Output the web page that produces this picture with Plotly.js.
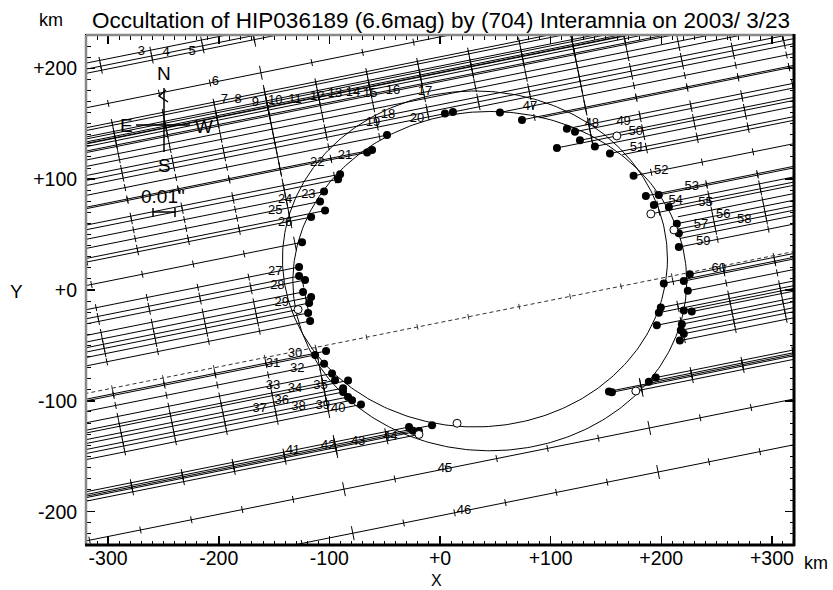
<!DOCTYPE html>
<html><head><meta charset="utf-8">
<script src="https://cdn.plot.ly/plotly-3.0.1.min.js"></script>
<style>html,body{margin:0;padding:0;background:#fff}</style>
</head><body><div id="chart" style="width:833px;height:590px"></div>
<script>
// ---------- data (km in the fundamental plane) ----------
const chordSlope = 0.2;
const chordB  = [268.6,263.2,259.4,228.3,210.3,207.8,202.0,200.2,197.5,196.2,195.7,193.3,189.3,187.9,181.2,175.4,167.2,162.8,
  158.2,149.3,138.6,137.3,122.5,118.3,109.7,107.0,101.5,92.4,89.1,68.0,46.2,47.6,38.0,33.4,30.5,23.0,17.0,11.9,8.0,3.1,-4.5,
  -31.0,-34.5,-36.0,-45.5,-55.8,-62.5,-65.0,-60.0,-71.0,-74.5,-79.9,-83.5,-89.0,-118.0,-120.5,-122.0,-123.3,-126.5,-162.3,-203.6];
const chordD  = [null,null,null,null,null,null,null,null,null,null,null,null,null,null,null,null,null,null,
  4.5,-47.9,-61.4,-65.9,-90.3,-92.1,-104.8,null,-108.4,-103.9,-116.5,-124.7,-127.4,null,-127.4,-122,null,-123.8,-116.5,-118.3,-128.3,-119.2,-117.4,
  null,-103,-112.9,-104.8,-97.6,-94.9,-83.1,null,-87.6,-87.6,-83.1,-79.5,-71.4,-28,-7.2,-24.4,-19,-19,null,null];
const chordDType = ['','','','','','','','','','','','','','','','','','',
  'f','f','f','f','f','f','f','','f','f','f','f','f','','f','f','','f','f','f','o','f','f',
  '','f','f','f','f','f','f','','f','f','f','f','f','f','f','f','f','o','',''];
const chordR  = [null,null,null,null,null,null,null,null,null,null,null,null,null,null,null,null,null,null,
  11.7,54.2,74.1,90,114.7,122,126.5,105.7,140,153.6,165,175,197.8,186.1,193.3,206.9,190.6,215,214.1,211.4,215.9,217,215.9,
  225.8,202.3,220.4,224,199.6,220.4,227.6,197.8,196,218.6,217.7,220.4,216.8,195,188.8,152.7,155.4,177,null,null];
const chordRType = ['','','','','','','','','','','','','','','','','','',
  'f','f','f','','f','f','f','f','f','f','','f','f','f','f','f','o','','f','o','f','','f',
  'f','f','f','f','f','f','f','f','f','f','f','f','f','f','f','f','f','o','',''];
const extraChord = [25, 57];
const extraX     = [159.9, 15.4];
const extraType  = ['o','o'];

const centerLineB = -29.3;

const labelText  = ['3','4','5','6','7','8','9','10','11','12','13','14','15','16','17','18','19','20','47','21','22','48','49',
  '23','24','50','25','51','26','52','27','53','54','28','55','29','56','57','58','59','60','30','31','32','33','34','35','36',
  '37','38','39','40','41','42','43','44','45','46'];
const labelChord = [0,1,2,3,4,5,6,7,8,9,10,11,12,13,14,16,17,18,19,20,21,22,23,
  24,24,25,26,27,28,29,30,31,32,33,34,36,36,37,38,40,41,41,43,44,45,46,47,49,
  50,51,52,53,54,55,56,57,59,60];
const labelX     = [-270,-247.5,-224,-203,-195,-182.5,-167,-149,-131,-111,-95,-78.6,-63,-42.5,-13.6,-47,-60.5,-20.8,81.3,-85.8,-111,137.3,166,
  -119,-140,177,-149,178,-140,200,-149,227.6,213,-147,240,-143,256,236,275,238,252,-131,-151,-129,-151,-131,-108,-143,
  -163,-128,-106,-92,-133,-101,-74,-45,4.5,21.7];

const ellipseCx = [31.6, 45.0];
const ellipseCy = [28.0, 8.0];
const ellipseA  = [174, 178];
const ellipseB  = [151.5, 153];

const xTickVals = [-300,-200,-100,0,100,200,300];
const xTickText = ['-300','-200','-100','+0','+100','+200','+300'];
const yTickVals = [-200,-100,0,100,200];
const yTickText = ['-200','-100','+0','+100','+200'];

// ---------- geometry helpers ----------
const cosT = 1/Math.sqrt(1+chordSlope*chordSlope), sinT = chordSlope*cosT;
const tickStep = 46, tickPhase = 20, XMIN=-340, XMAX=340;
const lineX=[], lineY=[], tickX=[], tickY=[], bigX=[], bigY=[];
function yOn(b,x){return chordSlope*x+b;}
function addSeg(b,x0,x1,ax,ay){ax.push(x0,x1,null); ay.push(yOn(b,x0),yOn(b,x1),null);}
function addTicks(b,x0,x1,h){
  const off = sinT*cosT*b;
  const kmin = Math.ceil((x0+off-tickPhase)/tickStep), kmax = Math.floor((x1+off-tickPhase)/tickStep);
  for(let k=kmin;k<=kmax;k++){
    const x = tickPhase + k*tickStep - off, y = yOn(b,x);
    const big = (((k%6)+6)%6)===3;
    const hh = big ? h*2 : h;
    const tx = big?bigX:tickX, ty = big?bigY:tickY;
    tx.push(x - hh*(-sinT), x + hh*(-sinT), null);
    ty.push(y - hh*cosT, y + hh*cosT, null);
  }
}
const fX=[],fY=[],oX=[],oY=[];
function addEvt(t,b,x){ if(t==='f'){fX.push(x);fY.push(yOn(b,x));} else if(t==='o'){oX.push(x);oY.push(yOn(b,x));} }
for(let i=0;i<chordB.length;i++){
  const b=chordB[i], D=chordD[i], R=chordR[i];
  const segs=[];
  if(D===null && R===null) segs.push([XMIN,XMAX]);
  else { if(D!==null) segs.push([XMIN,D]); if(R!==null) segs.push([R,XMAX]); }
  segs.forEach(s=>{addSeg(b,s[0],s[1],lineX,lineY); addTicks(b,s[0],s[1],3.2);});
  if(D!==null) addEvt(chordDType[i],b,D);
  if(R!==null) addEvt(chordRType[i],b,R);
}
extraChord.forEach((c,j)=>addEvt(extraType[j],chordB[c],extraX[j]));
const cX=[],cY=[]; addSeg(centerLineB,XMIN,XMAX,cX,cY);
const ctX=[],ctY=[];
(function(){const off=sinT*cosT*centerLineB;
  for(let k=-10;k<=10;k++){const x=tickPhase+k*tickStep-off,y=yOn(centerLineB,x);
    ctX.push(x+2.5*sinT,x-2.5*sinT,null); ctY.push(y-2.5*cosT,y+2.5*cosT,null);}})();

const traces=[];
for(let e=0;e<ellipseCx.length;e++){
  const ex=[],ey=[];
  for(let t=0;t<=360;t++){const a=t*Math.PI/180; ex.push(ellipseCx[e]+ellipseA[e]*Math.cos(a)); ey.push(ellipseCy[e]+ellipseB[e]*Math.sin(a));}
  traces.push({x:ex,y:ey,mode:'lines',line:{color:'#000',width:1},hoverinfo:'skip'});
}
traces.push({x:lineX,y:lineY,mode:'lines',line:{color:'#000',width:1},hoverinfo:'skip'});
traces.push({x:tickX,y:tickY,mode:'lines',line:{color:'#000',width:1},hoverinfo:'skip'});
traces.push({x:bigX,y:bigY,mode:'lines',line:{color:'#000',width:1},hoverinfo:'skip'});
traces.push({x:cX,y:cY,mode:'lines',line:{color:'#333',width:1,dash:'4px,3px'},hoverinfo:'skip'});
traces.push({x:ctX,y:ctY,mode:'lines',line:{color:'#333',width:1},hoverinfo:'skip'});
traces.push({x:fX,y:fY,mode:'markers',marker:{color:'#000',size:8,symbol:'circle'},hoverinfo:'skip'});
traces.push({x:oX,y:oY,mode:'markers',marker:{color:'#fff',size:8,symbol:'circle',line:{color:'#000',width:1}},hoverinfo:'skip'});
traces.push({x:labelX,y:labelX.map((x,i)=>yOn(chordB[labelChord[i]],x)),text:labelText,mode:'text',
  textfont:{family:'Liberation Sans, Arial, sans-serif',size:13,color:'#000'},textposition:'middle center',hoverinfo:'skip'});

// ---------- layout (pixel helpers for decorations) ----------
const W=833,H=590,ML=86,MR=39,MT=35,MB=45,PW=W-ML-MR,PH=H-MT-MB;
const px=x=>(x-ML)/PW, py=y=>(H-MB-y)/PH;
const F='Liberation Sans, Arial, sans-serif';
function pline(x0,y0,x1,y1,color,width){return {type:'line',xref:'paper',yref:'paper',x0:px(x0),y0:py(y0),x1:px(x1),y1:py(y1),line:{color:color,width:width}};}
const shapes=[
  pline(164,88,164,152,'#000',1.5),
  pline(136,125,190,125,'#000',1.5),
  {type:'path',xref:'paper',yref:'paper',path:`M ${px(166)} ${py(90)} L ${px(159)} ${py(96)} L ${px(168)} ${py(102)}`,line:{color:'#000',width:1.5}},
  pline(153,212,175,212,'#000',1.5),
  pline(153,208,153,217,'#000',1.5),
  pline(175,208,175,217,'#000',1.5),
  pline(ML,MT,W-MR,MT,'#888',2.5),
  pline(ML,MT,ML,H-MB,'#888',2.5),
  pline(ML-1,H-MB,W-MR+1,H-MB,'#000',3),
  pline(W-MR,MT-1,W-MR,H-MB+1,'#000',3)
];
function ann(text,x,y,size,xa){return {text:text,xref:'paper',yref:'paper',x:px(x),y:py(y),showarrow:false,xanchor:xa||'center',yanchor:'middle',font:{family:F,size:size,color:'#000'}};}
const annotations=[
  ann('km',51,20,18),
  ann('N',164,74,19), ann('S',164,165,19), ann('E',126,125,19), ann('W',204,126,19),
  ann('0.01"',163,196,19),
  ann('Y',16,291,19), ann('X',436,580.5,16), ann('km',816,563,18)
];
const axisCommon={showgrid:false,zeroline:false,showline:true,linecolor:'#000',linewidth:1,mirror:'allticks',
  ticks:'inside',ticklen:9,tickwidth:1.5,tickcolor:'#000',tickfont:{family:F,size:19.5,color:'#000'},
  minor:{ticks:'inside',ticklen:4.5,tickwidth:1,tickcolor:'#000',dtick:10,showgrid:false}};
const layout={
  width:W,height:H,margin:{l:ML,r:MR,t:MT,b:MB},paper_bgcolor:'#fff',plot_bgcolor:'#fff',showlegend:false,hovermode:false,
  title:{text:'Occultation of HIP036189 (6.6mag) by (704) Interamnia on 2003/ 3/23',font:{family:F,size:22.5,color:'#000'},
    xref:'container',yref:'container',x:441/W,y:1-20/H,xanchor:'center',yanchor:'middle'},
  xaxis:Object.assign({},axisCommon,{range:[-320,320],tickmode:'array',tickvals:xTickVals,ticktext:xTickText,ticklabelstandoff:-4}),
  yaxis:Object.assign({},axisCommon,{range:[-230,230],tickmode:'array',tickvals:yTickVals,ticktext:yTickText,ticklabelstandoff:4}),
  shapes:shapes,annotations:annotations
};
Plotly.newPlot('chart',traces,layout,{staticPlot:true,displayModeBar:false});
</script></body></html>
